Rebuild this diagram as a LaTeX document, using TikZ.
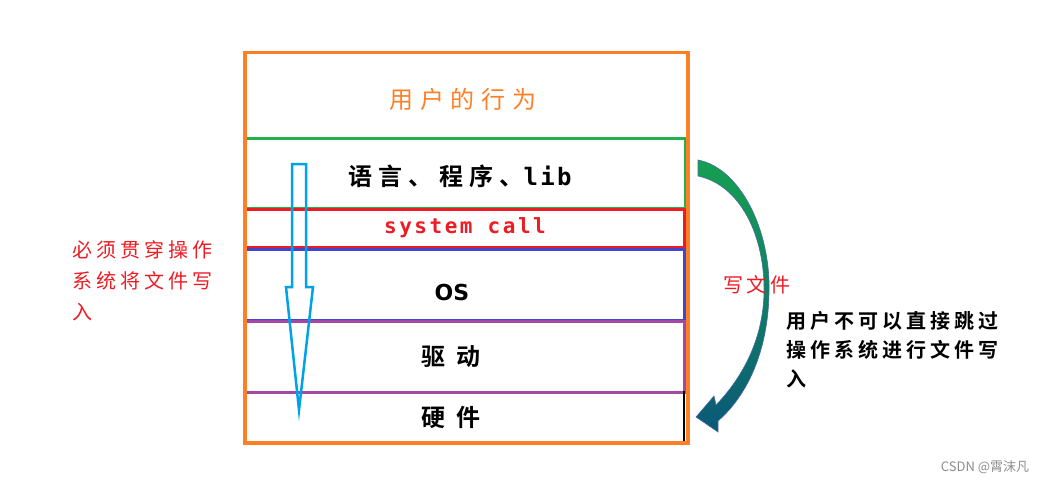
\documentclass[tikz,border=0pt]{standalone}
\usepackage{fontspec}
\newfontfamily\cjk{Noto Sans CJK SC}
\newfontfamily\cjkb{Noto Sans CJK SC Bold}
\newfontfamily\monob{DejaVu Sans Mono Bold}
\definecolor{uorange}{HTML}{FF7F27}
\definecolor{ugreen}{HTML}{22B14C}
\definecolor{ured}{HTML}{ED1C24}
\definecolor{ublue}{HTML}{3F48CC}
\definecolor{upurple}{HTML}{A349A4}
\definecolor{ucyan}{HTML}{00A2E8}
\definecolor{agreen}{HTML}{15A050}
\definecolor{ateal}{HTML}{0A5878}
\definecolor{aedge}{HTML}{4A6AA8}
\begin{document}
\begin{tikzpicture}[x=1pt,y=-1pt,
  layer/.style={draw,line width=3pt,inner sep=0pt,anchor=north west},
  lbl/.style={inner sep=0pt,anchor=center},
  note/.style={inner sep=0pt,anchor=north west,align=left}]
\useasboundingbox (0,0) rectangle (1051,484);
% layers
\node[layer,ugreen,minimum width=441pt,minimum height=70pt] (lang) at (243,137) {};
\node[layer,ured,minimum width=440pt,minimum height=38pt] (sys) at (243,208) {};
\node[layer,ublue,minimum width=440pt,minimum height=71pt] (os) at (243,248) {};
\node[layer,upurple,minimum width=440pt,minimum height=71pt,line width=2.5pt] (drv) at (243,320) {};
\coordinate (hwtop) at (684,391);
\coordinate (hwbot) at (684,441);
\draw[line width=2.5pt,black] (hwtop) -- (hwbot);
\node[layer,uorange,minimum width=443pt,minimum height=390pt,line width=3.5pt] (outer) at (243,51) {};
% labels
\node[lbl,text=uorange] (t1) at (463,99) {\cjk\addfontfeature{LetterSpace=28}\fontsize{24}{28}\selectfont 用户的行为};
\node[lbl] (t2) at (460,176) {\cjkb\addfontfeature{LetterSpace=26}\fontsize{24}{28}\selectfont 语言、程序、\monob\addfontfeature{LetterSpace=10}lib};
\node[lbl,text=ured] (t3) at (465,228) {\monob\addfontfeature{LetterSpace=12}\fontsize{21}{24}\selectfont system call};
\node[lbl] (t4) at (452,292) {\fontspec{DejaVu Sans Bold}\fontsize{22}{24}\selectfont OS};
\node[lbl] (t5) at (451,357) {\cjkb\addfontfeature{LetterSpace=45}\fontsize{24}{28}\selectfont 驱动};
\node[lbl] (t6) at (451,417) {\cjkb\addfontfeature{LetterSpace=45}\fontsize{24}{28}\selectfont 硬件};
% blue arrow
\draw[ucyan,line width=2.5pt,line join=miter] (292,164) -- (306,164) -- (306,287) -- (313,287) -- (299,410) -- (286,287) -- (292,287) -- cycle;
% curved arrow
\def\cpath{(698,160) .. controls (740,168) and (771,230) .. (769,293)
  .. controls (768,350) and (748,395) .. (718,421)
  -- (718,432) -- (696,417) -- (714,396) -- (716,405)
  .. controls (742,378) and (763,340) .. (764,293)
  .. controls (765,235) and (740,185) .. (698,176) -- cycle}
\shade[top color=agreen,bottom color=ateal,middle color=agreen!55!ateal] \cpath;
\draw[aedge,line width=0.6pt] \cpath;
\node[lbl,text=ured] (wf) at (757,285) {\cjk\addfontfeature{LetterSpace=18}\fontsize{20}{22}\selectfont 写文件};
% notes
\node[note,text=ured,font={\cjk\addfontfeature{LetterSpace=20}\fontsize{20}{31}\selectfont}] (left) at (72,240) {必须贯穿操作\\系统将文件写\\入};
\node[note,font={\cjkb\addfontfeature{LetterSpace=20}\fontsize{20}{29}\selectfont}] (right) at (786,311) {用户不可以直接跳过\\操作系统进行文件写\\入};
\node[lbl,text=black!45] (wm) at (985,467) {\cjk\fontsize{13}{15}\selectfont CSDN @霄沫凡};
\end{tikzpicture}
\end{document}
